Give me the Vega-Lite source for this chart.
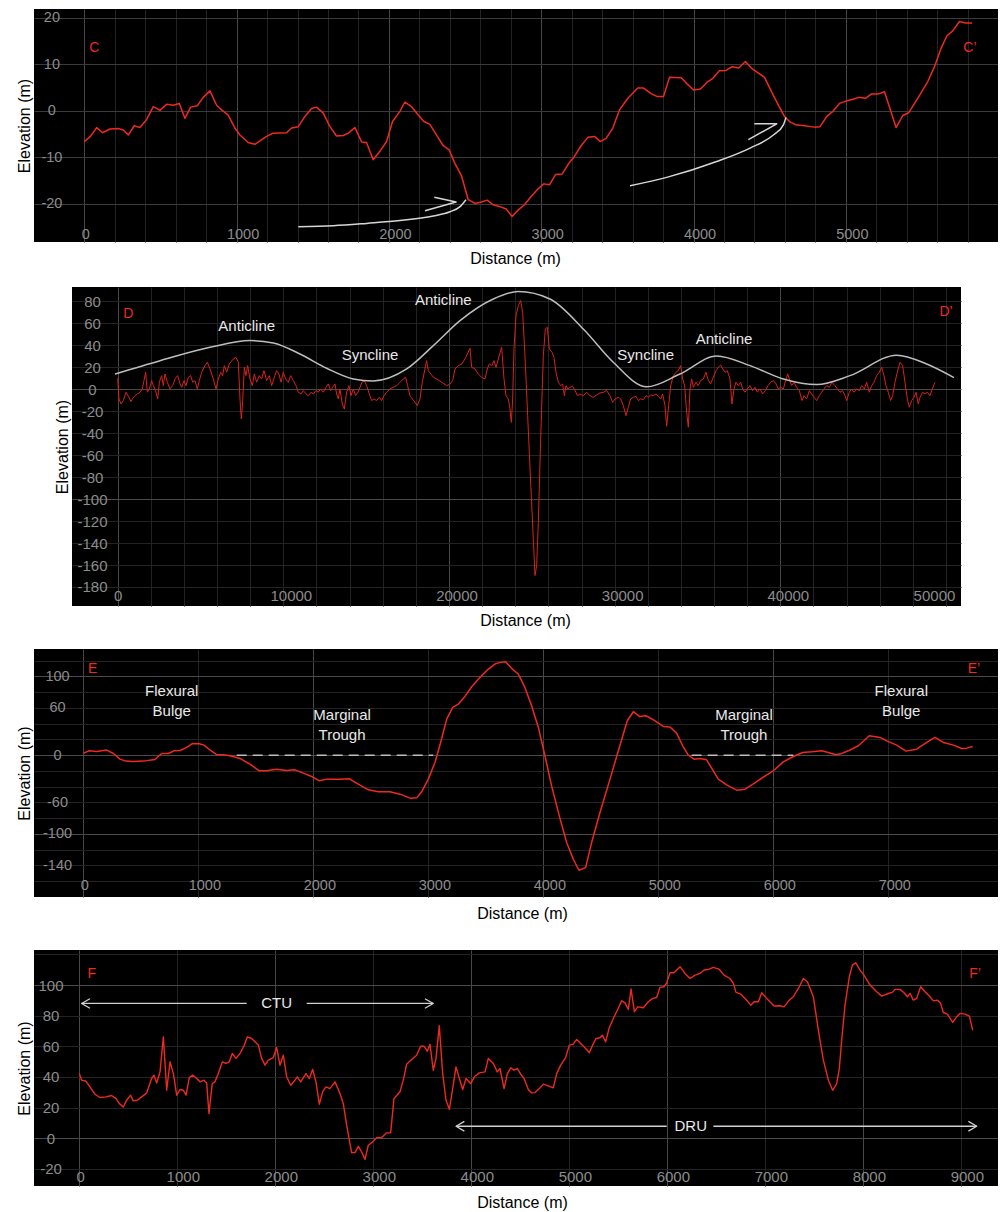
{
"$schema": "https://vega.github.io/schema/vega-lite/v6.json",
"background": "white",
"padding": {"left": 16, "top": 9, "right": 0, "bottom": 0},
"config": {
  "font": "Liberation Sans",
  "view": {"fill": "black", "stroke": null},
  "axis": {"domain": false, "ticks": false, "tickSize": 0, "grid": true, "gridWidth": 1, "labelColor": "#8c8c8c", "labelFont": "Liberation Sans", "labelFontSize": 14.5, "labelOverlap": false, "labelFlush": false, "labelBound": false, "labelBaseline": "middle", "labelAlign": "center", "titleFont": "Liberation Sans", "titleFontSize": 16, "titleFontWeight": "normal", "titleColor": "#000000", "titleBaseline": "alphabetic"},
  "axisY": {"titleX": -5},
  "line": {"strokeJoin": "round"}
},
"datasets": {
"c": [
{"dist":0,"elev":-6.6},{"dist":41,"elev":-5.5},{"dist":81,"elev":-3.6},{"dist":120,"elev":-4.7},{"dist":168,"elev":-3.9},{"dist":223,"elev":-3.8},{"dist":256,"elev":-4.1},{"dist":289,"elev":-5.2},{"dist":328,"elev":-3.2},{"dist":365,"elev":-3.6},{"dist":409,"elev":-1.9},{"dist":453,"elev":0.9},{"dist":497,"elev":0.1},{"dist":540,"elev":1.4},{"dist":584,"elev":1.2},{"dist":624,"elev":1.6},{"dist":661,"elev":-1.6},{"dist":698,"elev":0.8},{"dist":742,"elev":1.1},{"dist":781,"elev":2.9},{"dist":825,"elev":4.3},{"dist":869,"elev":1.2},{"dist":902,"elev":0.2},{"dist":945,"elev":-0.9},{"dist":989,"elev":-3.7},{"dist":1022,"elev":-5.2},{"dist":1076,"elev":-6.8},{"dist":1120,"elev":-7.2},{"dist":1197,"elev":-5.5},{"dist":1240,"elev":-4.8},{"dist":1328,"elev":-4.7},{"dist":1361,"elev":-3.7},{"dist":1405,"elev":-3.4},{"dist":1449,"elev":-1.2},{"dist":1492,"elev":0.5},{"dist":1525,"elev":0.8},{"dist":1569,"elev":-0.5},{"dist":1613,"elev":-3.4},{"dist":1656,"elev":-5.4},{"dist":1700,"elev":-5.3},{"dist":1733,"elev":-4.8},{"dist":1777,"elev":-3.6},{"dist":1821,"elev":-6.7},{"dist":1853,"elev":-6.8},{"dist":1897,"elev":-10.5},{"dist":1941,"elev":-8.7},{"dist":1985,"elev":-6.6},{"dist":2024,"elev":-2.3},{"dist":2072,"elev":-0.1},{"dist":2105,"elev":1.9},{"dist":2149,"elev":0.9},{"dist":2193,"elev":-0.9},{"dist":2230,"elev":-2.3},{"dist":2269,"elev":-2.9},{"dist":2313,"elev":-5.2},{"dist":2357,"elev":-7.5},{"dist":2396,"elev":-8.4},{"dist":2433,"elev":-11.3},{"dist":2477,"elev":-14.0},{"dist":2521,"elev":-19.1},{"dist":2565,"elev":-19.9},{"dist":2608,"elev":-19.6},{"dist":2645,"elev":-19.2},{"dist":2685,"elev":-20.2},{"dist":2729,"elev":-20.6},{"dist":2770,"elev":-21.1},{"dist":2809,"elev":-22.7},{"dist":2846,"elev":-21.4},{"dist":2890,"elev":-20.2},{"dist":2934,"elev":-18.4},{"dist":2978,"elev":-16.8},{"dist":3017,"elev":-15.7},{"dist":3054,"elev":-15.9},{"dist":3094,"elev":-13.7},{"dist":3137,"elev":-13.6},{"dist":3181,"elev":-11.3},{"dist":3218,"elev":-9.8},{"dist":3262,"elev":-7.5},{"dist":3306,"elev":-5.7},{"dist":3350,"elev":-5.5},{"dist":3387,"elev":-6.6},{"dist":3426,"elev":-5.9},{"dist":3470,"elev":-3.7},{"dist":3514,"elev":0.2},{"dist":3569,"elev":2.7},{"dist":3634,"elev":4.9},{"dist":3672,"elev":4.9},{"dist":3722,"elev":3.7},{"dist":3759,"elev":3.1},{"dist":3803,"elev":3.1},{"dist":3842,"elev":7.2},{"dist":3919,"elev":7.1},{"dist":3958,"elev":5.8},{"dist":4000,"elev":4.5},{"dist":4046,"elev":4.7},{"dist":4087,"elev":6.1},{"dist":4127,"elev":7.0},{"dist":4170,"elev":8.6},{"dist":4214,"elev":8.7},{"dist":4253,"elev":9.5},{"dist":4297,"elev":9.2},{"dist":4341,"elev":10.6},{"dist":4385,"elev":9.0},{"dist":4422,"elev":8.2},{"dist":4466,"elev":7.2},{"dist":4520,"elev":3.6},{"dist":4564,"elev":0.8},{"dist":4597,"elev":-1.2},{"dist":4630,"elev":-2.3},{"dist":4673,"elev":-3.0},{"dist":4728,"elev":-3.2},{"dist":4794,"elev":-3.5},{"dist":4831,"elev":-3.4},{"dist":4875,"elev":-1.2},{"dist":4915,"elev":-0.1},{"dist":4958,"elev":1.6},{"dist":5002,"elev":2.1},{"dist":5046,"elev":2.5},{"dist":5085,"elev":2.9},{"dist":5129,"elev":2.7},{"dist":5166,"elev":3.6},{"dist":5210,"elev":3.6},{"dist":5254,"elev":4.1},{"dist":5330,"elev":-3.6},{"dist":5374,"elev":-1.0},{"dist":5413,"elev":-0.4},{"dist":5472,"elev":2.7},{"dist":5538,"elev":6.3},{"dist":5582,"elev":9.5},{"dist":5626,"elev":13.5},{"dist":5663,"elev":16.1},{"dist":5702,"elev":17.2},{"dist":5746,"elev":19.2},{"dist":5786,"elev":18.9},{"dist":5829,"elev":18.9}
],
"c_curve": [
{"id":"a1","dist":1405,"elev":-24.9},{"id":"a1","dist":1635,"elev":-24.7},{"id":"a1","dist":1854,"elev":-24.2},{"id":"a1","dist":2073,"elev":-23.6},{"id":"a1","dist":2292,"elev":-22.6},{"id":"a1","dist":2401,"elev":-21.7},{"id":"a1","dist":2467,"elev":-20.6},{"id":"a1","dist":2506,"elev":-19.1},
{"id":"a2","dist":3583,"elev":-16.1},{"id":"a2","dist":3824,"elev":-14.3},{"id":"a2","dist":4152,"elev":-10.9},{"id":"a2","dist":4371,"elev":-8.0},{"id":"a2","dist":4524,"elev":-5.2},{"id":"a2","dist":4590,"elev":-3.0},{"id":"a2","dist":4607,"elev":-1.4}
],
"c_head": [
{"id":"h1","o":1,"dist":2298,"elev":-18.6},{"id":"h1","o":2,"dist":2441,"elev":-19.6},{"id":"h1","o":3,"dist":2237,"elev":-21.5},
{"id":"h2","o":1,"dist":4399,"elev":-2.8},{"id":"h2","o":2,"dist":4546,"elev":-2.8},{"id":"h2","o":3,"dist":4360,"elev":-6.2}
],
"c_txt": [{"dist":66,"elev":13.5,"label":"C"},{"dist":5815,"elev":13.5,"label":"C’"}],
"d": [
{"dist":0,"elev":10},{"dist":78,"elev":-8.8},{"dist":199,"elev":-13.4},{"dist":340,"elev":-10.3},{"dist":501,"elev":-2.7},{"dist":642,"elev":-6.4},{"dist":803,"elev":-11.2},{"dist":903,"elev":-8.2},{"dist":1044,"elev":-5.8},{"dist":1185,"elev":-4.3},{"dist":1346,"elev":-2.7},{"dist":1487,"elev":0.3},{"dist":1587,"elev":7.9},{"dist":1688,"elev":15.5},{"dist":1788,"elev":-2.7},{"dist":1909,"elev":0.3},{"dist":2050,"elev":7.9},{"dist":2151,"elev":3.3},{"dist":2291,"elev":-1.2},{"dist":2412,"elev":-8.8},{"dist":2513,"elev":6.4},{"dist":2654,"elev":12.4},{"dist":2754,"elev":3.3},{"dist":2855,"elev":13.9},{"dist":2996,"elev":6.4},{"dist":3157,"elev":0.3},{"dist":3318,"elev":3.3},{"dist":3458,"elev":9.4},{"dist":3619,"elev":12.4},{"dist":3760,"elev":4.9},{"dist":3861,"elev":1.8},{"dist":4002,"elev":7.9},{"dist":4122,"elev":3.3},{"dist":4263,"elev":10.9},{"dist":4404,"elev":12.4},{"dist":4525,"elev":6.4},{"dist":4666,"elev":7.9},{"dist":4806,"elev":0.3},{"dist":4927,"elev":7.9},{"dist":5068,"elev":15.5},{"dist":5269,"elev":21.5},{"dist":5410,"elev":24.6},{"dist":5571,"elev":18.5},{"dist":5772,"elev":9.4},{"dist":5933,"elev":0.3},{"dist":6074,"elev":9.4},{"dist":6215,"elev":15.5},{"dist":6336,"elev":12.4},{"dist":6436,"elev":21.5},{"dist":6577,"elev":15.5},{"dist":6738,"elev":23},{"dist":6939,"elev":27},{"dist":7140,"elev":29.1},{"dist":7281,"elev":24.6},{"dist":7382,"elev":-8.8},{"dist":7462,"elev":-27},{"dist":7543,"elev":-11.8},{"dist":7643,"elev":20},{"dist":7744,"elev":12.4},{"dist":7845,"elev":21.5},{"dist":7985,"elev":9.4},{"dist":8126,"elev":3.3},{"dist":8247,"elev":13.9},{"dist":8388,"elev":6.4},{"dist":8549,"elev":12.4},{"dist":8690,"elev":9.4},{"dist":8830,"elev":17},{"dist":8991,"elev":7.9},{"dist":9152,"elev":12.4},{"dist":9293,"elev":3.3},{"dist":9454,"elev":10.9},{"dist":9595,"elev":17},{"dist":9736,"elev":13.9},{"dist":9857,"elev":6.4},{"dist":9997,"elev":15.5},{"dist":10138,"elev":9.4},{"dist":10299,"elev":6.4},{"dist":10440,"elev":12.4},{"dist":10601,"elev":7.9},{"dist":10762,"elev":3.3},{"dist":10903,"elev":-2.7},{"dist":11064,"elev":-4.3},{"dist":11205,"elev":-1.2},{"dist":11366,"elev":-4.3},{"dist":11506,"elev":-5.8},{"dist":11667,"elev":-2.7},{"dist":11808,"elev":-4.3},{"dist":11969,"elev":-1.2},{"dist":12110,"elev":-2.7},{"dist":12251,"elev":0.3},{"dist":12412,"elev":-2.7},{"dist":12573,"elev":1.8},{"dist":12714,"elev":4.9},{"dist":12854,"elev":-1.2},{"dist":12975,"elev":1.8},{"dist":13116,"elev":4.9},{"dist":13217,"elev":-4.3},{"dist":13317,"elev":-8.8},{"dist":13418,"elev":0.3},{"dist":13559,"elev":-13.4},{"dist":13679,"elev":-18},{"dist":13820,"elev":-2.7},{"dist":13961,"elev":3.3},{"dist":14082,"elev":-5.8},{"dist":14223,"elev":0.3},{"dist":14363,"elev":-5.8},{"dist":14504,"elev":-2.7},{"dist":14625,"elev":1.8},{"dist":14746,"elev":6.4},{"dist":14887,"elev":7.9},{"dist":15027,"elev":3.3},{"dist":15188,"elev":-4.3},{"dist":15329,"elev":-10.3},{"dist":15470,"elev":-8.8},{"dist":15631,"elev":-10.3},{"dist":15792,"elev":-7.3},{"dist":15933,"elev":-10.3},{"dist":16074,"elev":-5.8},{"dist":16235,"elev":-2.7},{"dist":16436,"elev":0.3},{"dist":16637,"elev":1.8},{"dist":16838,"elev":3.3},{"dist":17039,"elev":6.4},{"dist":17241,"elev":9.4},{"dist":17381,"elev":10.9},{"dist":17502,"elev":3.3},{"dist":17643,"elev":-5.8},{"dist":17784,"elev":-8.8},{"dist":17945,"elev":-11.8},{"dist":18086,"elev":-14.9},{"dist":18247,"elev":-8.8},{"dist":18388,"elev":6.4},{"dist":18548,"elev":18.5},{"dist":18649,"elev":26.1},{"dist":18750,"elev":17},
{"dist":19054,"elev":10.9},{"dist":19255,"elev":9.4},{"dist":19557,"elev":6.4},{"dist":19859,"elev":3.3},{"dist":20060,"elev":4.8},{"dist":20221,"elev":7.9},{"dist":20362,"elev":18.5},{"dist":20563,"elev":21.5},{"dist":20764,"elev":23},{"dist":20965,"elev":27.6},{"dist":21106,"elev":32.1},{"dist":21267,"elev":37.3},{"dist":21368,"elev":20},{"dist":21569,"elev":18.5},{"dist":21770,"elev":13.9},{"dist":21971,"elev":10.9},{"dist":22172,"elev":9.4},{"dist":22314,"elev":18.5},{"dist":22434,"elev":23},{"dist":22595,"elev":21.5},{"dist":22716,"elev":26.1},{"dist":22837,"elev":20},{"dist":22977,"elev":27.6},{"dist":23178,"elev":38.2},{"dist":23320,"elev":9.4},{"dist":23440,"elev":-5.8},{"dist":23581,"elev":-8.8},{"dist":23682,"elev":-17.9},{"dist":23762,"elev":-30.1},{"dist":23843,"elev":-8.8},{"dist":23923,"elev":36.7},{"dist":24044,"elev":67},{"dist":24185,"elev":76.1},{"dist":24326,"elev":80.7},{"dist":24446,"elev":70.1},{"dist":24587,"elev":30.6},{"dist":24748,"elev":-24},{"dist":24929,"elev":-84.7},{"dist":25090,"elev":-136.3},{"dist":25191,"elev":-169.6},{"dist":25291,"elev":-160.5},{"dist":25392,"elev":-121.1},{"dist":25533,"elev":-45.2},{"dist":25694,"elev":30.6},{"dist":25815,"elev":54.9},{"dist":25935,"elev":56.4},{"dist":26056,"elev":36.7},{"dist":26217,"elev":33.7},{"dist":26338,"elev":29.1},{"dist":26458,"elev":15.4},{"dist":26599,"elev":6.4},{"dist":26740,"elev":3.3},{"dist":26861,"elev":4.8},{"dist":26961,"elev":-5.8},{"dist":27062,"elev":3.3},{"dist":27162,"elev":0.3},{"dist":27304,"elev":1.8},{"dist":27464,"elev":2.7},{"dist":27605,"elev":-0.9},{"dist":27746,"elev":-5.8},{"dist":27907,"elev":-4.3},{"dist":28108,"elev":-5.8},{"dist":28309,"elev":-2.8},{"dist":28510,"elev":-5.8},{"dist":28711,"elev":-7.3},{"dist":28913,"elev":-5.2},{"dist":29114,"elev":-3.4},{"dist":29315,"elev":-2.8},{"dist":29517,"elev":-1.2},{"dist":29718,"elev":-5.8},{"dist":29879,"elev":-11.9},{"dist":30020,"elev":-8.8},{"dist":30221,"elev":-7.3},{"dist":30362,"elev":-8.8},{"dist":30522,"elev":-14.9},{"dist":30683,"elev":-24},{"dist":30824,"elev":-16.4},
{"dist":30967,"elev":-8.8},{"dist":31128,"elev":-7.3},{"dist":31289,"elev":-6.4},{"dist":31430,"elev":-10.3},{"dist":31570,"elev":-8.8},{"dist":31731,"elev":-9.4},{"dist":31892,"elev":-5.8},{"dist":32033,"elev":-7.3},{"dist":32174,"elev":-5.2},{"dist":32335,"elev":-5.8},{"dist":32496,"elev":-4.3},{"dist":32637,"elev":-6.4},{"dist":32778,"elev":-8.8},{"dist":32898,"elev":-4.3},{"dist":33039,"elev":-14.9},{"dist":33140,"elev":-33.7},{"dist":33260,"elev":-14.9},{"dist":33381,"elev":3.3},{"dist":33542,"elev":12.4},{"dist":33703,"elev":15.5},{"dist":33844,"elev":17},{"dist":33985,"elev":21.5},{"dist":34105,"elev":9.4},{"dist":34226,"elev":3.3},{"dist":34347,"elev":-20.9},{"dist":34447,"elev":-34.6},{"dist":34548,"elev":0.3},{"dist":34649,"elev":9.4},{"dist":34749,"elev":1.8},{"dist":34910,"elev":6.4},{"dist":35051,"elev":3.3},{"dist":35192,"elev":7.9},{"dist":35353,"elev":9.4},{"dist":35514,"elev":15.5},{"dist":35655,"elev":7.9},{"dist":35796,"elev":4.9},{"dist":35957,"elev":10.9},{"dist":36118,"elev":17},{"dist":36258,"elev":20},{"dist":36399,"elev":22.1},{"dist":36520,"elev":18.5},{"dist":36661,"elev":15.5},{"dist":36801,"elev":17},{"dist":36962,"elev":9.4},{"dist":37083,"elev":-13.4},{"dist":37204,"elev":0.3},{"dist":37325,"elev":6.4},{"dist":37465,"elev":3.3},{"dist":37606,"elev":6.4},{"dist":37727,"elev":0.3},{"dist":37868,"elev":-2.7},{"dist":38009,"elev":0.3},{"dist":38170,"elev":3.3},{"dist":38331,"elev":-1.2},{"dist":38472,"elev":1.8},{"dist":38612,"elev":-2.7},{"dist":38773,"elev":0.3},{"dist":38934,"elev":-4.3},{"dist":39095,"elev":-1.2},{"dist":39256,"elev":3.3},{"dist":39417,"elev":6.4},{"dist":39578,"elev":7.9},{"dist":39739,"elev":4.9},{"dist":39880,"elev":0.3},{"dist":40021,"elev":1.8},{"dist":40182,"elev":0.3},{"dist":40323,"elev":7.9},{"dist":40443,"elev":14},{"dist":40544,"elev":9.4},{"dist":40685,"elev":3.3},{"dist":40826,"elev":6.4},{"dist":40987,"elev":1.8},{"dist":41148,"elev":-1.2},{"dist":41309,"elev":-10.3},{"dist":41429,"elev":-5.8},{"dist":41590,"elev":-8.8},{"dist":41751,"elev":-1.2},{"dist":41892,"elev":-4.3},{"dist":42033,"elev":-7.3},{"dist":42194,"elev":-10.3},{"dist":42355,"elev":-5.8},{"dist":42496,"elev":-2.7},{"dist":42636,"elev":0.3},{"dist":42797,"elev":3.3},{"dist":42958,"elev":1.8},{"dist":43119,"elev":6.4},{"dist":43300,"elev":3.3},{"dist":43441,"elev":0.3},{"dist":43602,"elev":-2.7},{"dist":43763,"elev":-1.2},{"dist":43904,"elev":-5.8},{"dist":44005,"elev":-10.3},{"dist":44166,"elev":-2.7},{"dist":44306,"elev":0.3},{"dist":44447,"elev":-2.7},{"dist":44608,"elev":0.3},{"dist":44769,"elev":-1.2},{"dist":44910,"elev":3.3},{"dist":45071,"elev":0.3},{"dist":45212,"elev":6.4},{"dist":45373,"elev":-2.7},{"dist":45514,"elev":3.3},{"dist":45655,"elev":6.4},{"dist":45816,"elev":12.4},{"dist":45977,"elev":15.5},{"dist":46117,"elev":20},{"dist":46258,"elev":12.4},{"dist":46379,"elev":3.3},{"dist":46520,"elev":-2.7},{"dist":46661,"elev":-10.3},{"dist":46781,"elev":-5.8},{"dist":46922,"elev":6.4},{"dist":47063,"elev":15.5},{"dist":47224,"elev":24.6},{"dist":47385,"elev":21.5},{"dist":47526,"elev":6.4},{"dist":47667,"elev":-8.8},{"dist":47788,"elev":-16.4},{"dist":47929,"elev":-10.3},{"dist":48070,"elev":-7.3},{"dist":48191,"elev":-2.7},{"dist":48331,"elev":-13.4},{"dist":48432,"elev":-7.3},{"dist":48593,"elev":-2.7},{"dist":48734,"elev":-4.3},{"dist":48875,"elev":-2.7},{"dist":49035,"elev":-5.8},{"dist":49176,"elev":0.3},{"dist":49337,"elev":6.4}
],
"d_fold": [
{"dist":-163,"elev":13.9},{"dist":2554,"elev":26},{"dist":5572,"elev":38.2},{"dist":7987,"elev":44.3},{"dist":9396,"elev":42.1},{"dist":11005,"elev":32.1},{"dist":12617,"elev":19.1},{"dist":14224,"elev":9.4},{"dist":15430,"elev":7.6},{"dist":17446,"elev":18.5},{"dist":19052,"elev":39.7},{"dist":20664,"elev":62.5},{"dist":22675,"elev":82.2},{"dist":24186,"elev":89},{"dist":26097,"elev":82.2},{"dist":28108,"elev":54.9},{"dist":29918,"elev":24.6},{"dist":31935,"elev":2.2},{"dist":33945,"elev":13.9},{"dist":36160,"elev":30.4},{"dist":38171,"elev":21.5},{"dist":40181,"elev":9.4},{"dist":42197,"elev":4.3},{"dist":44207,"elev":12.4},{"dist":47028,"elev":31},{"dist":48838,"elev":23},{"dist":50486,"elev":10.6}
],
"d_txt": [{"dist":640,"elev":68.5,"label":"D"},{"dist":50002,"elev":70.1,"label":"D’"}],
"d_note": [{"dist":7788,"elev":57.9,"label":"Anticline"},{"dist":19657,"elev":81.6,"label":"Anticline"},{"dist":36601,"elev":45.8,"label":"Anticline"},{"dist":15231,"elev":31.2,"label":"Syncline"},{"dist":31874,"elev":31.2,"label":"Syncline"}],
"e": [
{"dist":0,"elev":2.5},{"dist":52,"elev":5.5},{"dist":116,"elev":4.7},{"dist":203,"elev":6.4},{"dist":261,"elev":2.1},{"dist":319,"elev":-5.1},{"dist":371,"elev":-7.6},{"dist":435,"elev":-8.1},{"dist":522,"elev":-7.6},{"dist":623,"elev":-5.5},{"dist":681,"elev":2.1},{"dist":739,"elev":2.1},{"dist":788,"elev":5.5},{"dist":841,"elev":5.9},{"dist":899,"elev":9.8},{"dist":951,"elev":14.8},{"dist":1009,"elev":14.4},{"dist":1049,"elev":12.7},{"dist":1107,"elev":5.9},{"dist":1159,"elev":0.8},{"dist":1217,"elev":0.4},{"dist":1275,"elev":-0.8},{"dist":1362,"elev":-4.2},{"dist":1449,"elev":-11.5},{"dist":1530,"elev":-19.9},{"dist":1594,"elev":-19.9},{"dist":1681,"elev":-17.8},{"dist":1768,"elev":-19.5},{"dist":1840,"elev":-18.7},{"dist":1913,"elev":-22.9},{"dist":1985,"elev":-27.1},{"dist":2052,"elev":-32.6},{"dist":2116,"elev":-30.5},{"dist":2232,"elev":-30.5},{"dist":2313,"elev":-30.1},{"dist":2391,"elev":-36.9},{"dist":2478,"elev":-44.1},{"dist":2565,"elev":-46.6},{"dist":2667,"elev":-46.6},{"dist":2754,"elev":-49.6},{"dist":2841,"elev":-54.7},{"dist":2899,"elev":-54.3},{"dist":2942,"elev":-46.6},{"dist":3000,"elev":-30.5},{"dist":3058,"elev":-9.3},{"dist":3107,"elev":16.1},{"dist":3160,"elev":45.8},{"dist":3212,"elev":60.6},{"dist":3261,"elev":64.9},{"dist":3319,"elev":74.6},{"dist":3377,"elev":86.9},{"dist":3449,"elev":98.8},{"dist":3522,"elev":109.4},{"dist":3580,"elev":115.8},{"dist":3623,"elev":117.9},{"dist":3672,"elev":118.7},{"dist":3724,"elev":110.3},{"dist":3782,"elev":103.1},{"dist":3840,"elev":86.1},{"dist":3898,"elev":62.8},{"dist":3957,"elev":35.2},{"dist":4014,"elev":-0.8},{"dist":4072,"elev":-39},{"dist":4139,"elev":-77.2},{"dist":4203,"elev":-111.1},{"dist":4261,"elev":-132.3},{"dist":4310,"elev":-146.3},{"dist":4368,"elev":-142.9},{"dist":4420,"elev":-111.1},{"dist":4493,"elev":-72.9},{"dist":4580,"elev":-30.5},{"dist":4661,"elev":9.8},{"dist":4730,"elev":43.7},{"dist":4783,"elev":55.2},{"dist":4835,"elev":49.2},{"dist":4893,"elev":50.1},{"dist":4962,"elev":44.6},{"dist":5043,"elev":36.5},{"dist":5101,"elev":35.7},{"dist":5159,"elev":28},{"dist":5212,"elev":11.9},{"dist":5261,"elev":0},{"dist":5310,"elev":-5.1},{"dist":5362,"elev":-4.2},{"dist":5420,"elev":-5.9},{"dist":5478,"elev":-19.9},{"dist":5522,"elev":-30.5},{"dist":5594,"elev":-37.8},{"dist":5681,"elev":-44.5},{"dist":5754,"elev":-43.3},{"dist":5820,"elev":-37.3},{"dist":5913,"elev":-28},{"dist":6000,"elev":-19.9},{"dist":6087,"elev":-8.5},{"dist":6174,"elev":-1.7},{"dist":6255,"elev":3.4},{"dist":6334,"elev":4.2},{"dist":6421,"elev":5.5},{"dist":6478,"elev":3.4},{"dist":6536,"elev":0.8},{"dist":6580,"elev":1.3},{"dist":6652,"elev":5.5},{"dist":6740,"elev":11.9},{"dist":6835,"elev":24.6},{"dist":6928,"elev":22.5},{"dist":6986,"elev":18.2},{"dist":7073,"elev":12.7},{"dist":7154,"elev":5.1},{"dist":7247,"elev":7.6},{"dist":7334,"elev":16.1},{"dist":7406,"elev":22.5},{"dist":7479,"elev":16.1},{"dist":7566,"elev":12.7},{"dist":7638,"elev":8.5},{"dist":7682,"elev":8.9},{"dist":7734,"elev":11}
],
"e_dash": [{"dist":1334,"dist2":3043,"elev":0},{"dist":5290,"dist2":6174,"elev":0}],
"e_txt": [{"dist":82,"elev":109.4,"label":"E"},{"dist":7745,"elev":109.4,"label":"E’"}],
"e_note": [{"dist":769,"elev":81.8,"label":"Flexural\nBulge"},{"dist":2250,"elev":50.9,"label":"Marginal\nTrough"},{"dist":5745,"elev":50.9,"label":"Marginal\nTrough"},{"dist":7113,"elev":81.8,"label":"Flexural\nBulge"}],
"f": [
{"dist":0,"elev":42.2},{"dist":24,"elev":37.9},{"dist":68,"elev":37.2},{"dist":109,"elev":33.5},{"dist":160,"elev":28.7},{"dist":211,"elev":26.6},{"dist":273,"elev":27},{"dist":330,"elev":27.9},{"dist":375,"elev":25.9},{"dist":409,"elev":22.6},{"dist":449,"elev":20.4},{"dist":483,"elev":24.8},{"dist":524,"elev":28.1},{"dist":551,"elev":24.4},{"dist":592,"elev":24.8},{"dist":637,"elev":27},{"dist":688,"elev":29.6},{"dist":738,"elev":39},{"dist":762,"elev":41.2},{"dist":790,"elev":36.1},{"dist":824,"elev":43.3},{"dist":858,"elev":66.2},{"dist":892,"elev":31.3},{"dist":926,"elev":49.9},{"dist":960,"elev":42.2},{"dist":994,"elev":28.1},{"dist":1028,"elev":31.8},{"dist":1062,"elev":31.3},{"dist":1089,"elev":28.1},{"dist":1123,"elev":39.6},{"dist":1157,"elev":41.2},{"dist":1198,"elev":39},{"dist":1232,"elev":36.8},{"dist":1272,"elev":37.9},{"dist":1300,"elev":36.1},{"dist":1323,"elev":16.1},{"dist":1357,"elev":35.7},{"dist":1384,"elev":36.8},{"dist":1419,"elev":42.2},{"dist":1460,"elev":49.9},{"dist":1494,"elev":48.8},{"dist":1531,"elev":49.9},{"dist":1561,"elev":55.3},{"dist":1599,"elev":52.1},{"dist":1640,"elev":55.3},{"dist":1684,"elev":60.8},{"dist":1715,"elev":66.2},{"dist":1759,"elev":65.1},{"dist":1827,"elev":60.8},{"dist":1861,"elev":52.1},{"dist":1895,"elev":47.7},{"dist":1929,"elev":51},{"dist":1980,"elev":52.7},{"dist":2014,"elev":59.2},{"dist":2048,"elev":47.7},{"dist":2082,"elev":54.2},{"dist":2116,"elev":40.1},{"dist":2157,"elev":34.6},{"dist":2201,"elev":37.9},{"dist":2225,"elev":40.1},{"dist":2259,"elev":36.8},{"dist":2313,"elev":42.2},{"dist":2347,"elev":39},{"dist":2381,"elev":44.9},{"dist":2415,"elev":36.8},{"dist":2449,"elev":22.2},{"dist":2483,"elev":30.3},{"dist":2517,"elev":33.5},{"dist":2558,"elev":32.4},{"dist":2609,"elev":36.8},{"dist":2660,"elev":29.2},{"dist":2694,"elev":22.6},{"dist":2728,"elev":8.5},{"dist":2779,"elev":-9.4},{"dist":2813,"elev":-9.4},{"dist":2847,"elev":-5.3},{"dist":2881,"elev":-9},{"dist":2915,"elev":-13.8},{"dist":2949,"elev":-4.6},{"dist":2993,"elev":-2.4},{"dist":3034,"elev":0.4},{"dist":3085,"elev":0.4},{"dist":3136,"elev":3.5},{"dist":3177,"elev":3.5},{"dist":3211,"elev":25.9},{"dist":3272,"elev":30.3},{"dist":3306,"elev":37.9},{"dist":3340,"elev":48.3},{"dist":3391,"elev":51.4},{"dist":3442,"elev":54.2},{"dist":3483,"elev":60.1},{"dist":3517,"elev":60.1},{"dist":3551,"elev":56.8},{"dist":3578,"elev":61.4},{"dist":3612,"elev":44.4},{"dist":3640,"elev":52.1},{"dist":3673,"elev":73.4},{"dist":3708,"elev":42.2},{"dist":3742,"elev":24.8},{"dist":3776,"elev":18.9},{"dist":3810,"elev":32.4},{"dist":3844,"elev":46.6},{"dist":3878,"elev":39},{"dist":3912,"elev":31.8},{"dist":3946,"elev":39},{"dist":3993,"elev":35.7},{"dist":4037,"elev":40.5},{"dist":4082,"elev":42.7},{"dist":4140,"elev":43.3},{"dist":4174,"elev":52.1},{"dist":4225,"elev":48.8},{"dist":4265,"elev":43.3},{"dist":4293,"elev":45.5},{"dist":4334,"elev":32.4},{"dist":4368,"elev":42.2},{"dist":4402,"elev":45.9},{"dist":4436,"elev":44.4},{"dist":4470,"elev":45.5},{"dist":4504,"elev":41.8},{"dist":4538,"elev":39},{"dist":4582,"elev":31.8},{"dist":4616,"elev":29.6},{"dist":4650,"elev":29.8},{"dist":4694,"elev":32.4},{"dist":4735,"elev":35.3},{"dist":4786,"elev":34.2},{"dist":4837,"elev":32.9},{"dist":4871,"elev":42.2},{"dist":4912,"elev":47.7},{"dist":4963,"elev":52.7},{"dist":5000,"elev":60.8},{"dist":5041,"elev":61.4},{"dist":5075,"elev":64.5},{"dist":5126,"elev":61.2},{"dist":5167,"elev":58.6},{"dist":5204,"elev":55.8},{"dist":5238,"elev":60.8},{"dist":5272,"elev":65.1},{"dist":5313,"elev":65.6},{"dist":5337,"elev":67.3},{"dist":5371,"elev":62.9},{"dist":5405,"elev":71.7},{"dist":5449,"elev":78.2},{"dist":5490,"elev":83.6},{"dist":5534,"elev":89.7},{"dist":5568,"elev":88.4},{"dist":5602,"elev":84.1},{"dist":5630,"elev":97.4},{"dist":5664,"elev":82.6},{"dist":5698,"elev":85.8},{"dist":5755,"elev":85.2},{"dist":5806,"elev":89.1},{"dist":5851,"elev":91.3},{"dist":5891,"elev":91.9},{"dist":5925,"elev":98.5},{"dist":5966,"elev":98.9},{"dist":5994,"elev":101.5},{"dist":6028,"elev":108},{"dist":6068,"elev":108},{"dist":6130,"elev":112},{"dist":6180,"elev":107.6},{"dist":6232,"elev":104.3},{"dist":6283,"elev":106.5},{"dist":6334,"elev":107.6},{"dist":6374,"elev":109.8},{"dist":6419,"elev":110.2},{"dist":6470,"elev":111.5},{"dist":6531,"elev":110.2},{"dist":6579,"elev":106.5},{"dist":6640,"elev":104.3},{"dist":6674,"elev":101.1},{"dist":6701,"elev":95.2},{"dist":6749,"elev":94.1},{"dist":6803,"elev":90.6},{"dist":6851,"elev":86.9},{"dist":6888,"elev":89.1},{"dist":6929,"elev":89.1},{"dist":6963,"elev":95},{"dist":7014,"elev":91.3},{"dist":7089,"elev":86.3},{"dist":7150,"elev":86.5},{"dist":7191,"elev":85.8},{"dist":7245,"elev":90.2},{"dist":7286,"elev":92.4},{"dist":7337,"elev":97.8},{"dist":7388,"elev":104.3},{"dist":7429,"elev":102.2},{"dist":7490,"elev":92.4},{"dist":7541,"elev":70.6},{"dist":7592,"elev":51},{"dist":7643,"elev":37.9},{"dist":7687,"elev":31.3},{"dist":7728,"elev":35.7},{"dist":7755,"elev":45.5},{"dist":7779,"elev":64},{"dist":7813,"elev":86.9},{"dist":7857,"elev":105.4},{"dist":7888,"elev":113},{"dist":7922,"elev":114.6},{"dist":7966,"elev":109.8},{"dist":8007,"elev":106.5},{"dist":8068,"elev":100},{"dist":8136,"elev":95.6},{"dist":8187,"elev":92.8},{"dist":8255,"elev":94.5},{"dist":8299,"elev":95.4},{"dist":8323,"elev":97.2},{"dist":8374,"elev":97.2},{"dist":8415,"elev":95},{"dist":8449,"elev":92.4},{"dist":8477,"elev":94.5},{"dist":8510,"elev":90.2},{"dist":8544,"elev":91.3},{"dist":8585,"elev":98.9},{"dist":8629,"elev":95.6},{"dist":8680,"elev":92.4},{"dist":8714,"elev":89.7},{"dist":8755,"elev":90.2},{"dist":8789,"elev":88},{"dist":8816,"elev":82.1},{"dist":8857,"elev":81},{"dist":8912,"elev":75.6},{"dist":8946,"elev":78.8},{"dist":8986,"elev":81.5},{"dist":9037,"elev":81},{"dist":9082,"elev":79.7},{"dist":9116,"elev":70.6}
],
"f_arrow": [
{"id":"ctuL","o":1,"dist":24,"elev":88},{"id":"ctuL","o":2,"dist":1708,"elev":88},
{"id":"ctuR","o":1,"dist":2320,"elev":88},{"id":"ctuR","o":2,"dist":3612,"elev":88},
{"id":"ctuLh","o":1,"dist":109,"elev":91.1},{"id":"ctuLh","o":2,"dist":24,"elev":88},{"id":"ctuLh","o":3,"dist":109,"elev":84.9},
{"id":"ctuRh","o":1,"dist":3527,"elev":91.1},{"id":"ctuRh","o":2,"dist":3612,"elev":88},{"id":"ctuRh","o":3,"dist":3527,"elev":84.9},
{"id":"druL","o":1,"dist":3844,"elev":7.8},{"id":"druL","o":2,"dist":5994,"elev":7.8},
{"id":"druR","o":1,"dist":6470,"elev":7.8},{"id":"druR","o":2,"dist":9157,"elev":7.8},
{"id":"druLh","o":1,"dist":3929,"elev":11},{"id":"druLh","o":2,"dist":3844,"elev":7.8},{"id":"druLh","o":3,"dist":3929,"elev":4.6},
{"id":"druRh","o":1,"dist":9072,"elev":11},{"id":"druRh","o":2,"dist":9157,"elev":7.8},{"id":"druRh","o":3,"dist":9072,"elev":4.6}
],
"f_txt": [{"dist":127,"elev":107.2,"label":"F"},{"dist":9140,"elev":107.2,"label":"F’"}],
"f_note": [{"dist":2014,"elev":88,"label":"CTU"},{"dist":6239,"elev":7.8,"label":"DRU"}]
},
"concat": [
{
 "width": 964, "height": 233,
 "encoding": {
  "x": {"field": "dist", "type": "quantitative", "scale": {"domain": [-330, 5999], "nice": false, "zero": false},
   "axis": {"title": "Distance (m)", "titleX": 481, "titleY": 21,
    "values": [0,200,400,600,800,1000,1200,1400,1600,1800,2000,2200,2400,2600,2800,3000,3200,3400,3600,3800,4000,4200,4400,4600,4800,5000,5200,5400,5600,5800],
    "labelExpr": "datum.value % 1000 === 0 ? datum.value + '' : ''",
    "gridColor": {"condition": {"test": "datum.value % 1000 === 0", "value": "#474747"}, "value": "#232323"},
    "labelPadding": -8,
    "labelOffset": {"condition": {"test": "datum.value === 0", "value": 1}, "value": 6}}},
  "y": {"field": "elev", "type": "quantitative", "scale": {"domain": [-28.2, 21.9], "nice": false, "zero": false},
   "axis": {"title": "Elevation (m)", "values": [-20,-10,0,10,20], "labelExpr": "datum.value + ''", "gridColor": "#3a3a3a", "labelPadding": -17.4}}
 },
 "layer": [
  {"data": {"name": "c"}, "mark": {"type": "line", "color": "#ee2a1f", "strokeWidth": 1.5}},
  {"data": {"name": "c_curve"}, "mark": {"type": "line", "color": "#d6d6d6", "strokeWidth": 1.5, "interpolate": "monotone"}, "encoding": {"detail": {"field": "id"}}},
  {"data": {"name": "c_head"}, "mark": {"type": "line", "color": "#d6d6d6", "strokeWidth": 1.5}, "encoding": {"detail": {"field": "id"}, "order": {"field": "o"}}},
  {"data": {"name": "c_txt"}, "mark": {"type": "text", "color": "#ee2a1f", "fontSize": 14, "align": "center", "baseline": "middle"}, "encoding": {"text": {"field": "label"}}}
 ]
},
{
 "hconcat": [
  {"width": 20, "height": 10, "data": {"values": [{"k": 1}]}, "mark": {"type": "point", "opacity": 0}, "view": {"fill": "white", "stroke": null}},
  {
   "width": 889, "height": 319,
   "encoding": {
    "x": {"field": "dist", "type": "quantitative", "scale": {"domain": [-2759, 50908], "nice": false, "zero": false},
     "axis": {"title": "Distance (m)", "titleX": 453, "titleY": 19,
      "values": [0,2000,4000,6000,8000,10000,12000,14000,16000,18000,20000,22000,24000,26000,28000,30000,32000,34000,36000,38000,40000,42000,44000,46000,48000,50000],
      "labelExpr": "datum.value % 10000 === 0 ? datum.value + '' : ''",
      "gridColor": {"condition": {"test": "datum.value % 20000 === 0", "value": "#474747"}, "value": "#232323"},
      "labelPadding": -10.3, "labelFontSize": 15,
      "labelOffset": {"condition": [{"test": "datum.value === 0", "value": 0}, {"test": "datum.value === 50000", "value": -12}], "value": 7.5}}},
    "y": {"field": "elev", "type": "quantitative", "scale": {"domain": [-197.3, 93.1], "nice": false, "zero": false},
     "axis": {"title": "Elevation (m)", "values": [-180,-160,-140,-120,-100,-80,-60,-40,-20,0,20,40,60,80], "labelExpr": "datum.value + ''",
      "gridColor": {"condition": {"test": "datum.value % 100 === 0", "value": "#4a4a4a"}, "value": "#232323"},
      "labelPadding": -20, "labelFontSize": 15}}
   },
   "layer": [
    {"data": {"name": "d"}, "mark": {"type": "line", "color": "#d8231a", "strokeWidth": 1}},
    {"data": {"name": "d_fold"}, "mark": {"type": "line", "color": "#bdbdbd", "strokeWidth": 1.5, "interpolate": "monotone"}},
    {"data": {"name": "d_txt"}, "mark": {"type": "text", "color": "#ee2a1f", "fontSize": 14, "align": "center", "baseline": "middle"}, "encoding": {"text": {"field": "label"}}},
    {"data": {"name": "d_note"}, "mark": {"type": "text", "color": "#e8e8e8", "fontSize": 15, "align": "center", "baseline": "middle"}, "encoding": {"text": {"field": "label"}}}
   ]
  }
 ],
 "spacing": 0
},
{
 "vconcat": [
  {
   "width": 964, "height": 248,
   "encoding": {
    "x": {"field": "dist", "type": "quantitative", "scale": {"domain": [-429, 7954], "nice": false, "zero": false},
     "axis": {"title": "Distance (m)", "titleX": 488, "titleY": 21,
      "values": [0,1000,2000,3000,4000,5000,6000,7000],
      "labelExpr": "datum.value + ''",
      "gridColor": {"condition": {"test": "datum.value % 2000 === 0", "value": "#474747"}, "value": "#232323"},
      "labelPadding": -11.2,
      "labelOffset": {"condition": {"test": "datum.value === 0", "value": 1}, "value": 6}}},
    "y": {"field": "elev", "type": "quantitative", "scale": {"domain": [-180.3, 134.9], "nice": false, "zero": false},
     "axis": {"title": "Elevation (m)", "values": [-160,-140,-120,-100,-80,-60,-40,-20,0,20,40,60,80,100,120],
      "labelExpr": "indexof([100,60,0,-60,-100,-140], datum.value) >= 0 ? datum.value + '' : ''",
      "gridColor": {"condition": {"test": "datum.value % 100 === 0", "value": "#4a4a4a"}, "value": "#232323"},
      "labelPadding": -23}}
   },
   "layer": [
    {"data": {"name": "e"}, "mark": {"type": "line", "color": "#ee2a1f", "strokeWidth": 1.5}},
    {"data": {"name": "e_dash"}, "mark": {"type": "rule", "color": "#bdbdbd", "strokeWidth": 1.5, "strokeDash": [10, 6]}, "encoding": {"x2": {"field": "dist2"}}},
    {"data": {"name": "e_txt"}, "mark": {"type": "text", "color": "#ee2a1f", "fontSize": 14, "align": "center", "baseline": "middle"}, "encoding": {"text": {"field": "label"}}},
    {"data": {"name": "e_note"}, "mark": {"type": "text", "color": "#e8e8e8", "fontSize": 15, "align": "center", "baseline": "middle", "lineBreak": "\n", "lineHeight": 20}, "encoding": {"text": {"field": "label"}}}
   ]
  },
  {
   "width": 964, "height": 236,
   "encoding": {
    "x": {"field": "dist", "type": "quantitative", "scale": {"domain": [-462, 9374], "nice": false, "zero": false},
     "axis": {"title": "Distance (m)", "titleX": 488, "titleY": 21.6,
      "values": [0,1000,2000,3000,4000,5000,6000,7000,8000,9000],
      "labelExpr": "datum.value + ''",
      "gridColor": {"condition": {"test": "datum.value % 2000 === 0", "value": "#474747"}, "value": "#232323"},
      "labelPadding": -9.7, "labelFontSize": 15,
      "labelOffset": {"condition": {"test": "datum.value === 0", "value": 1}, "value": 5.5}}},
    "y": {"field": "elev", "type": "quantitative", "scale": {"domain": [-31.2, 122.9], "nice": false, "zero": false},
     "axis": {"title": "Elevation (m)", "values": [-20,0,20,40,60,80,100,120],
      "labelExpr": "datum.value <= 100 ? datum.value + '' : ''",
      "gridColor": {"condition": {"test": "datum.value % 100 === 0", "value": "#4a4a4a"}, "value": "#232323"},
      "labelPadding": -16.5, "labelFontSize": 15}}
   },
   "layer": [
    {"data": {"name": "f"}, "mark": {"type": "line", "color": "#ee2a1f", "strokeWidth": 1.4}},
    {"data": {"name": "f_arrow"}, "mark": {"type": "line", "color": "#d0d0d0", "strokeWidth": 1.3}, "encoding": {"detail": {"field": "id"}, "order": {"field": "o"}}},
    {"data": {"name": "f_txt"}, "mark": {"type": "text", "color": "#ee2a1f", "fontSize": 14, "align": "center", "baseline": "middle"}, "encoding": {"text": {"field": "label"}}},
    {"data": {"name": "f_note"}, "mark": {"type": "text", "color": "#e8e8e8", "fontSize": 15, "align": "center", "baseline": "middle"}, "encoding": {"text": {"field": "label"}}}
   ]
  }
 ],
 "spacing": 26
}
],
"columns": 1,
"align": "none",
"spacing": 21
}
